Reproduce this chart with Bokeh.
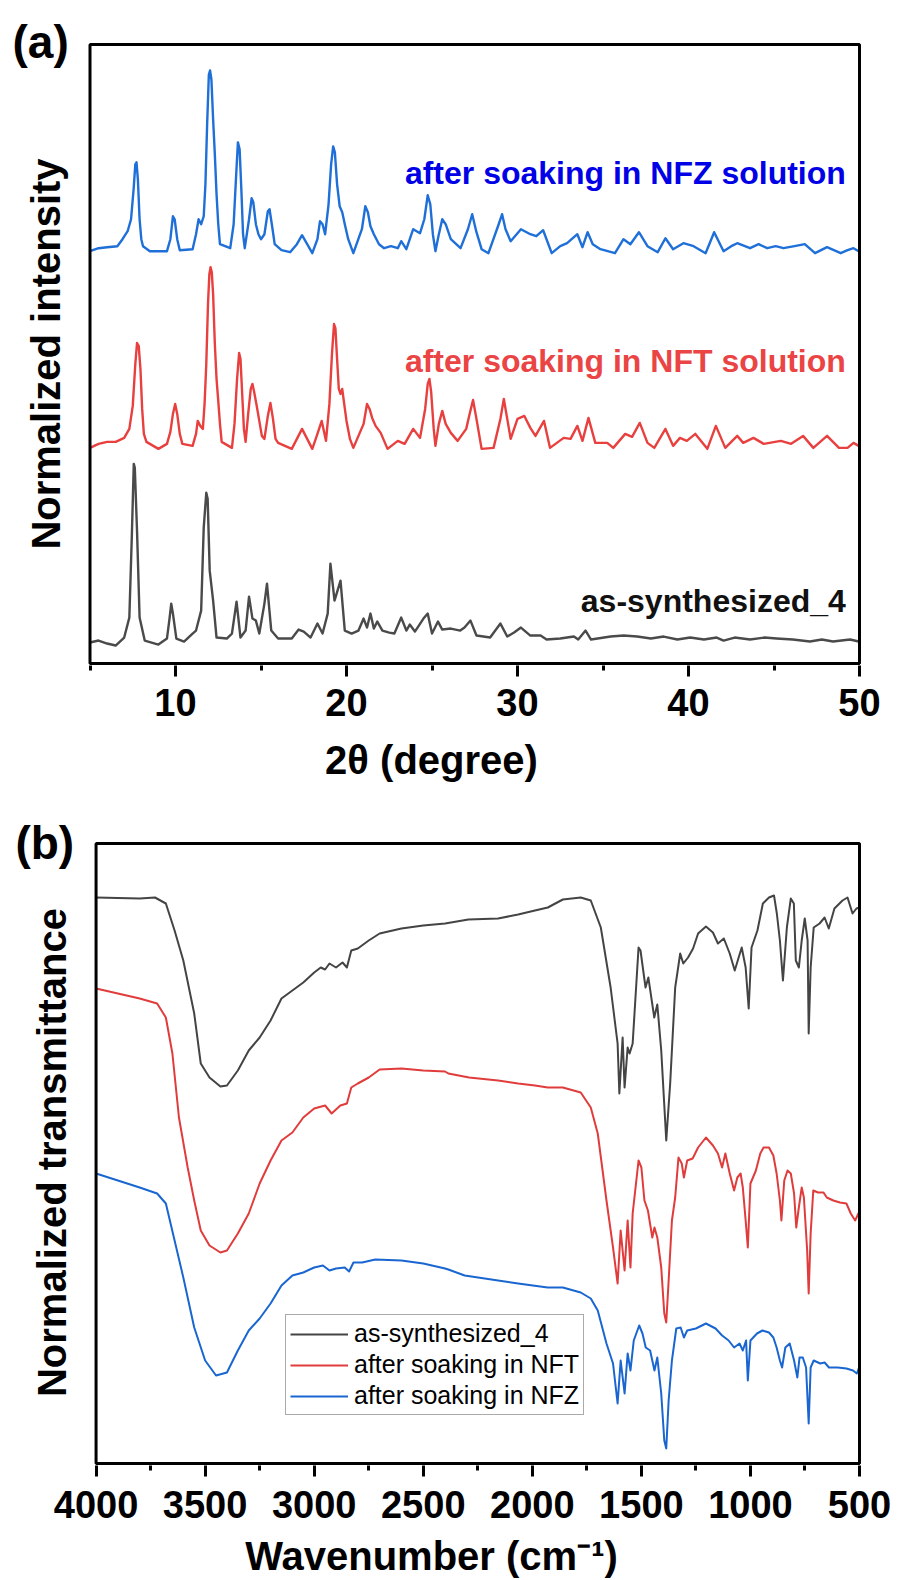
import math
from bokeh.plotting import figure
from bokeh.layouts import column
from bokeh.models import Range1d, FixedTicker, Label, Legend, LegendItem, BoxAnnotation
from bokeh.embed import file_html
from bokeh.resources import INLINE

FONT = "Liberation Sans"

# ---------------- (a) PXRD, stacked normalized intensity (2theta, intensity) ----------------
xrd_black = [(5.0, 21), (5.5, 23), (6.0, 20), (6.5, 18), (7.0, 26), (7.3, 46), (7.45, 130), (7.56, 200),
             (7.62, 196), (7.75, 133), (7.9, 46), (8.2, 23), (9.0, 19), (9.5, 25), (9.65, 45), (9.75, 60),
             (9.85, 50), (10.05, 25), (10.5, 22), (11.0, 30), (11.2, 33), (11.5, 53), (11.65, 136),
             (11.8, 171), (11.88, 165), (12.0, 93), (12.2, 63), (12.4, 26), (13.0, 25), (13.3, 30),
             (13.57, 62), (13.8, 26), (14.1, 33), (14.3, 67), (14.5, 45), (14.7, 43), (14.9, 30), (15.2, 60),
             (15.35, 80), (15.6, 33), (16.0, 25), (16.8, 25), (17.2, 34), (17.5, 32), (17.9, 26), (18.3, 40),
             (18.6, 30), (18.9, 50), (19.06, 100), (19.3, 63), (19.65, 83), (19.9, 33), (20.3, 30),
             (20.7, 33), (21.0, 45), (21.2, 36), (21.4, 50), (21.6, 35), (21.8, 42), (22.1, 33), (22.5, 31),
             (22.8, 30), (23.2, 46), (23.5, 33), (23.7, 39), (24.0, 32), (24.5, 45), (24.75, 50), (25.0, 30),
             (25.35, 42), (25.6, 34), (26.1, 35), (26.65, 33), (26.9, 36), (27.25, 43), (27.6, 28),
             (28.4, 26), (29.0, 40), (29.4, 27), (29.8, 31), (30.2, 36), (30.75, 28), (31.35, 28),
             (31.7, 24), (32.5, 25), (33.3, 27), (33.55, 24), (33.98, 33), (34.3, 24), (35.45, 27),
             (36.2, 28), (37.0, 27), (37.8, 25), (38.55, 27), (39.35, 24), (40.1, 26), (40.9, 24),
             (41.65, 26), (42.05, 23), (42.7, 26), (43.6, 24), (44.45, 26), (45.15, 25), (46.1, 24),
             (47.1, 22), (47.8, 24), (48.45, 22), (49.45, 24), (49.95, 22)]

xrd_red = [(5.0, 216), (5.5, 220), (6.0, 222), (6.5, 222), (7.0, 226), (7.3, 235), (7.5, 258), (7.65, 300),
           (7.75, 321), (7.85, 318), (7.95, 295), (8.05, 255), (8.15, 230), (8.3, 222), (9.0, 215),
           (9.5, 220), (9.7, 232), (9.85, 250), (9.98, 260), (10.1, 250), (10.25, 230), (10.4, 220),
           (11.0, 218), (11.2, 230), (11.3, 243), (11.45, 238), (11.6, 235), (11.7, 260), (11.8, 300),
           (11.9, 360), (11.98, 390), (12.05, 397), (12.12, 392), (12.2, 370), (12.3, 320), (12.4, 285),
           (12.5, 263), (12.6, 240), (12.7, 222), (13.3, 216), (13.45, 240), (13.6, 285), (13.72, 311),
           (13.8, 305), (13.9, 270), (14.0, 235), (14.1, 222), (14.25, 250), (14.4, 275), (14.5, 280),
           (14.6, 272), (14.75, 258), (14.9, 243), (15.05, 228), (15.2, 225), (15.4, 248), (15.55, 261),
           (15.7, 245), (15.85, 225), (16.0, 221), (16.8, 215), (17.1, 225), (17.4, 235), (17.7, 225),
           (18.0, 215), (18.3, 230), (18.55, 243), (18.8, 223), (19.0, 260), (19.15, 310), (19.27, 340),
           (19.35, 336), (19.45, 305), (19.55, 275), (19.65, 270), (19.75, 275), (19.85, 262), (20.0, 243),
           (20.2, 225), (20.4, 216), (21.0, 240), (21.2, 260), (21.35, 255), (21.5, 246), (21.7, 238),
           (22.0, 231), (22.4, 215), (23.0, 223), (23.4, 220), (23.9, 235), (24.3, 226), (24.6, 255),
           (24.75, 280), (24.85, 285), (24.95, 272), (25.1, 235), (25.2, 218), (25.4, 240), (25.6, 253),
           (25.8, 240), (26.1, 231), (26.5, 223), (27.0, 235), (27.2, 250), (27.4, 264), (27.6, 245),
           (27.9, 215), (28.6, 216), (29.0, 245), (29.2, 265), (29.4, 245), (29.6, 225), (30.0, 245),
           (30.4, 248), (30.75, 236), (31.05, 228), (31.55, 243), (31.9, 216), (32.7, 226), (33.1, 225),
           (33.5, 238), (33.8, 223), (34.15, 246), (34.55, 221), (35.25, 221), (35.6, 216), (36.3, 230),
           (36.7, 227), (37.15, 241), (37.6, 221), (38.0, 216), (38.65, 235), (39.1, 218), (39.5, 226),
           (39.9, 223), (40.4, 230), (41.1, 215), (41.6, 238), (42.15, 216), (42.85, 228), (43.2, 221),
           (43.8, 226), (44.4, 220), (45.4, 223), (46.0, 220), (46.7, 228), (47.3, 216), (48.1, 228),
           (48.8, 216), (49.3, 216), (49.65, 221), (49.95, 218)]

xrd_blue = [(5.0, 413), (5.5, 416), (6.0, 417), (6.6, 418), (6.9, 425), (7.2, 433), (7.4, 445), (7.55, 475),
            (7.65, 500), (7.72, 502), (7.8, 485), (7.9, 445), (8.0, 425), (8.1, 418), (8.5, 413), (9.5, 413),
            (9.7, 425), (9.85, 448), (9.95, 445), (10.1, 425), (10.25, 414), (11.0, 415), (11.2, 430),
            (11.35, 445), (11.5, 440), (11.65, 448), (11.75, 480), (11.85, 540), (11.95, 590), (12.02, 594),
            (12.1, 585), (12.2, 545), (12.3, 510), (12.4, 470), (12.5, 440), (12.6, 420), (13.2, 416),
            (13.4, 440), (13.55, 490), (13.65, 522), (13.75, 515), (13.85, 475), (13.95, 430), (14.05, 416),
            (14.3, 445), (14.45, 466), (14.55, 462), (14.7, 440), (14.85, 430), (15.0, 425), (15.2, 430),
            (15.4, 453), (15.5, 455), (15.65, 438), (15.8, 420), (16.2, 414), (16.7, 412), (17.1, 420),
            (17.4, 429), (17.7, 420), (18.0, 411), (18.3, 425), (18.45, 443), (18.6, 440), (18.75, 430),
            (18.95, 460), (19.1, 500), (19.22, 518), (19.32, 512), (19.45, 480), (19.6, 458), (19.75, 452),
            (19.9, 440), (20.1, 425), (20.4, 411), (20.9, 435), (21.1, 458), (21.25, 452), (21.4, 438),
            (21.6, 430), (21.9, 420), (22.2, 416), (22.6, 418), (23.0, 416), (23.2, 423), (23.5, 415),
            (23.9, 435), (24.3, 431), (24.55, 445), (24.75, 469), (24.9, 460), (25.05, 430), (25.2, 413),
            (25.4, 430), (25.6, 445), (25.8, 440), (26.1, 425), (26.67, 416), (27.1, 435), (27.35, 450),
            (27.6, 432), (27.9, 415), (28.3, 411), (28.9, 440), (29.1, 450), (29.3, 435), (29.6, 423),
            (30.2, 435), (30.75, 430), (31.1, 428), (31.5, 434), (32.0, 411), (32.5, 418), (32.9, 421),
            (33.5, 430), (33.8, 417), (34.1, 432), (34.4, 420), (34.85, 415), (35.7, 411), (36.2, 425),
            (36.6, 420), (37.1, 432), (37.6, 418), (38.2, 412), (38.65, 426), (39.1, 415), (39.7, 421),
            (40.3, 418), (41.0, 411), (41.5, 432), (42.05, 413), (42.5, 418), (42.85, 421), (43.6, 416),
            (44.1, 420), (44.6, 416), (45.1, 418), (45.55, 416), (46.2, 418), (46.8, 420), (47.4, 411),
            (48.1, 417), (48.9, 411), (49.3, 414), (49.65, 416), (49.95, 413)]

xrd_labels = ["as-synthesized_4", "after soaking in NFT solution", "after soaking in NFZ solution"]
xrd_label_pos = [(49.2, 63), (49.2, 303), (49.2, 491)]
xrd_major_ticks = [10, 20, 30, 40, 50]
xrd_minor_ticks = [5, 15, 25, 35, 45]

# ---------------- (b) FTIR, stacked normalized transmittance (wavenumber, value) ----------------
ir_black = [(4000, 566), (3800, 565), (3730, 566), (3680, 560), (3640, 533), (3600, 503), (3550, 450),
            (3520, 400), (3480, 386), (3430, 377), (3400, 378), (3350, 393), (3300, 413), (3250, 426),
            (3200, 443), (3150, 465), (3100, 473), (3050, 481), (3000, 491), (2970, 496), (2950, 494),
            (2930, 500), (2900, 496), (2870, 501), (2850, 496), (2830, 513), (2800, 515), (2750, 523),
            (2700, 530), (2600, 535), (2500, 538), (2400, 540), (2293, 544), (2157, 545), (2065, 549),
            (1988, 553), (1929, 556), (1860, 564), (1778, 566), (1732, 563), (1686, 536), (1641, 476),
            (1609, 420), (1601, 370), (1586, 426), (1577, 376), (1563, 416), (1554, 410), (1540, 420),
            (1513, 516), (1504, 513), (1481, 476), (1468, 486), (1441, 446), (1427, 459), (1409, 413),
            (1386, 323), (1368, 380), (1345, 476), (1322, 510), (1308, 500), (1286, 506), (1263, 515),
            (1240, 530), (1204, 537), (1172, 531), (1149, 520), (1122, 525), (1095, 510), (1072, 493),
            (1054, 506), (1040, 516), (1022, 496), (1008, 455), (995, 516), (968, 533), (943, 560),
            (915, 566), (892, 568), (879, 550), (865, 523), (851, 483), (833, 536), (815, 565), (801, 560),
            (792, 503), (778, 496), (765, 523), (751, 545), (738, 523), (733, 430), (724, 496), (710, 536),
            (683, 540), (660, 546), (641, 535), (615, 555), (578, 563), (555, 566), (532, 550), (514, 555),
            (500, 556)]

ir_red = [(4000, 475), (3900, 470), (3800, 465), (3720, 460), (3680, 446), (3650, 410), (3620, 346),
          (3580, 296), (3550, 263), (3520, 233), (3480, 218), (3430, 211), (3400, 213), (3350, 230),
          (3300, 250), (3250, 280), (3200, 303), (3150, 323), (3100, 331), (3050, 346), (3000, 355),
          (2950, 358), (2920, 350), (2880, 358), (2850, 360), (2830, 376), (2800, 380), (2750, 386),
          (2700, 394), (2600, 395), (2500, 393), (2400, 392), (2385, 390), (2290, 386), (2157, 383),
          (2065, 380), (1988, 378), (1929, 376), (1860, 376), (1778, 371), (1732, 356), (1700, 330),
          (1660, 263), (1630, 216), (1609, 180), (1595, 233), (1577, 193), (1563, 243), (1550, 196),
          (1540, 250), (1513, 303), (1500, 296), (1486, 263), (1470, 253), (1450, 226), (1440, 236),
          (1427, 226), (1409, 196), (1395, 150), (1386, 141), (1375, 183), (1360, 243), (1345, 266),
          (1330, 306), (1315, 300), (1305, 286), (1290, 303), (1265, 305), (1240, 316), (1204, 326),
          (1172, 318), (1149, 310), (1130, 296), (1115, 310), (1095, 290), (1075, 273), (1060, 286),
          (1045, 290), (1035, 276), (1022, 243), (1012, 216), (1000, 280), (975, 293), (955, 310),
          (940, 316), (915, 316), (895, 308), (880, 290), (865, 263), (858, 243), (845, 283), (830, 293),
          (815, 290), (800, 270), (790, 236), (780, 253), (765, 276), (755, 266), (740, 213), (733, 170),
          (724, 230), (712, 273), (690, 271), (665, 271), (650, 266), (620, 263), (590, 261), (560, 260),
          (540, 250), (520, 243), (505, 250), (500, 252)]

ir_blue = [(4000, 290), (3900, 283), (3800, 276), (3720, 270), (3680, 260), (3640, 223), (3600, 186),
           (3550, 136), (3500, 103), (3450, 88), (3400, 91), (3350, 113), (3300, 133), (3250, 145),
           (3200, 160), (3150, 178), (3100, 188), (3050, 191), (3000, 196), (2960, 198), (2930, 193),
           (2900, 195), (2860, 196), (2840, 192), (2820, 201), (2780, 201), (2720, 204), (2600, 203),
           (2500, 200), (2400, 195), (2385, 194), (2310, 188), (2157, 183), (2065, 180), (1930, 176),
           (1860, 176), (1778, 171), (1732, 165), (1700, 153), (1660, 120), (1630, 100), (1609, 60),
           (1595, 103), (1577, 70), (1563, 110), (1550, 93), (1535, 123), (1510, 138), (1495, 130),
           (1480, 116), (1460, 113), (1440, 93), (1427, 106), (1409, 70), (1395, 23), (1386, 15),
           (1375, 63), (1360, 103), (1340, 135), (1320, 136), (1305, 126), (1290, 133), (1250, 135),
           (1204, 140), (1160, 135), (1130, 128), (1100, 123), (1075, 116), (1050, 120), (1035, 113),
           (1020, 123), (1012, 83), (1000, 123), (970, 130), (945, 133), (915, 131), (895, 126),
           (880, 116), (865, 103), (855, 96), (840, 116), (820, 120), (800, 103), (785, 86), (775, 106),
           (760, 106), (745, 96), (733, 40), (724, 96), (710, 103), (680, 100), (660, 101), (640, 96),
           (600, 96), (560, 95), (530, 93), (512, 90), (502, 96), (500, 126)]

ir_names = ["as-synthesized_4", "after soaking in NFT", "after soaking in NFZ"]
ir_major_ticks = [4000, 3500, 3000, 2500, 2000, 1500, 1000, 500]
ir_minor_ticks = [3750, 3250, 2750, 2250, 1750, 1250, 750]

# ---------------- styling ----------------
C_BLACK, C_RED, C_BLUE = "#4a4a4a", "#e8403f", "#1f6fd8"
TXT_BLUE, TXT_RED, TXT_BLACK = "#0000e6", "#ea4444", "#111111"


def style_axes(p, xlabel, major, minor, tick_standoff, title_standoff):
    p.outline_line_color = None
    p.xgrid.visible = False
    p.ygrid.visible = False
    p.background_fill_color = "white"
    p.border_fill_color = "white"
    xa = p.xaxis[0]
    xa.ticker = FixedTicker(ticks=major, minor_ticks=minor)
    xa.axis_line_color = None
    xa.major_tick_line_width = 3
    xa.minor_tick_line_width = 3
    xa.major_tick_line_color = "black"
    xa.minor_tick_line_color = "black"
    xa.major_tick_out = 11
    xa.major_tick_in = 0
    xa.minor_tick_out = 5
    xa.minor_tick_in = 0
    xa.major_label_text_font = FONT
    xa.major_label_text_font_style = "bold"
    xa.major_label_text_font_size = "38px"
    xa.major_label_text_line_height = 1.0
    xa.major_label_text_color = "black"
    xa.major_label_standoff = tick_standoff
    xa.axis_label = xlabel
    xa.axis_label_text_font = FONT
    xa.axis_label_text_font_style = "bold"
    xa.axis_label_text_font_size = "40px"
    xa.axis_label_text_line_height = 1.0
    xa.axis_label_text_color = "black"
    xa.axis_label_standoff = title_standoff


def add_text(p, x, y, text, size, color="black", bold=True, angle=0.0, align="left", baseline="middle"):
    p.add_layout(Label(x=x, y=y, text=text, text_font=FONT, text_font_style="bold" if bold else "normal",
                       text_font_size=size, text_color=color, angle=angle, text_align=align,
                       text_baseline=baseline))


# ---- panel (a)
pa = figure(width=903, height=784, x_range=Range1d(-0.234, 50.175), y_range=Range1d(-2.0, 664.1),
            output_backend="svg", toolbar_location=None, y_axis_location=None,
            min_border_left=0, min_border_right=41, min_border_top=0, min_border_bottom=119)
style_axes(pa, "2θ (degree)", xrd_major_ticks, xrd_minor_ticks, 12, 19)

for data, col in [(xrd_black, C_BLACK), (xrd_red, C_RED), (xrd_blue, C_BLUE)]:
    pa.line([d[0] for d in data], [d[1] for d in data], line_color=col, line_width=2.4, line_join="round")

pa.add_layout(BoxAnnotation(left=5, right=50, bottom=0, top=620, fill_color=None, fill_alpha=0,
                            line_color="black", line_width=3, line_alpha=1))

for (lx, ly), txt, col in zip(xrd_label_pos, xrd_labels, [TXT_BLACK, TXT_RED, TXT_BLUE]):
    add_text(pa, lx, ly, txt, "32px", color=col, align="right")

add_text(pa, 2.40, 310, "Normalized intensity", "40px", angle=math.pi / 2, align="center")
add_text(pa, 0.47, 623, "(a)", "46px")

# ---- panel (b)
pb = figure(width=903, height=796, x_range=Range1d(4438.1, 486.3), y_range=Range1d(-2.0, 679.0),
            output_backend="svg", toolbar_location=None, y_axis_location=None,
            min_border_left=0, min_border_right=37, min_border_top=0, min_border_bottom=115)
style_axes(pb, "Wavenumber (cm⁻¹)", ir_major_ticks, ir_minor_ticks, 14, 13)

items = []
for data, col, name in [(ir_black, "#444444", ir_names[0]), (ir_red, "#e03c3c", ir_names[1]),
                        (ir_blue, "#1a66d0", ir_names[2])]:
    r = pb.line([d[0] for d in data], [d[1] for d in data], line_color=col, line_width=2.0, line_join="round")
    items.append(LegendItem(label=name, renderers=[r]))

pb.add_layout(BoxAnnotation(left=4000, right=500, bottom=0, top=620, fill_color=None, fill_alpha=0,
                            line_color="black", line_width=3, line_alpha=1))

leg = Legend(items=items, location=(285, 50), border_line_color="#555555", border_line_width=1.5,
             background_fill_color="white", background_fill_alpha=1, padding=4, spacing=2, margin=0,
             label_text_font=FONT, label_text_font_size="25px", label_text_color="black",
             glyph_width=58, glyph_height=26, label_standoff=6, label_height=26)
pb.add_layout(leg, "center")

add_text(pb, 4200.8, 311, "Normalized transmittance", "40px", angle=math.pi / 2, align="center")
add_text(pb, 4369.6, 621, "(b)", "46px")

layout = column(pa, pb, spacing=0)
open("out.html", "w").write(file_html(layout, INLINE))
